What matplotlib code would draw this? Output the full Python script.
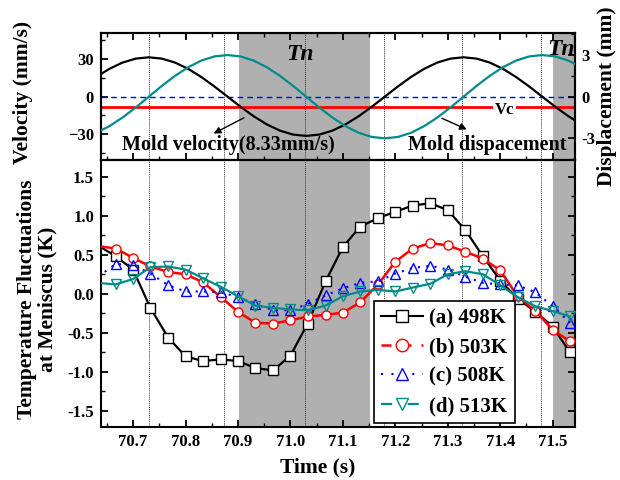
import matplotlib
matplotlib.use("Agg")
import matplotlib.pyplot as plt
from matplotlib.lines import Line2D
from matplotlib.ticker import MultipleLocator

plt.rcParams['font.family'] = ['Liberation Serif', 'DejaVu Serif']
plt.rcParams['font.weight'] = 'bold'
plt.rcParams['axes.labelweight'] = 'bold'
plt.rcParams['axes.linewidth'] = 1.5

# mold motion, sampled every 0.025 s
mold_t = [70.630, 70.655, 70.680, 70.705, 70.730, 70.755, 70.780, 70.805,
          70.830, 70.855, 70.880, 70.905, 70.930, 70.955, 70.980, 71.005,
          71.030, 71.055, 71.080, 71.105, 71.130, 71.155, 71.180, 71.205,
          71.230, 71.255, 71.280, 71.305, 71.330, 71.355, 71.380, 71.405,
          71.430, 71.455, 71.480, 71.505, 71.530, 71.555]
mold_velocity = [15.70, 22.20, 27.19, 30.33, 31.40, 30.33, 27.19, 22.20,
                 15.70, 8.13, 0.0, -8.13, -15.70, -22.20, -27.19, -30.33,
                 -31.40, -30.33, -27.19, -22.20, -15.70, -8.13, 0.0, 8.13,
                 15.70, 22.20, 27.19, 30.33, 31.40, 30.33, 27.19, 22.20,
                 15.70, 8.13, 0.0, -8.13, -15.70, -22.20]
mold_disp = [-2.60, -2.12, -1.50, -0.78, 0.0, 0.78, 1.50, 2.12,
             2.60, 2.90, 3.00, 2.90, 2.60, 2.12, 1.50, 0.78,
             0.0, -0.78, -1.50, -2.12, -2.60, -2.90, -3.00, -2.90,
             -2.60, -2.12, -1.50, -0.78, 0.0, 0.78, 1.50, 2.12,
             2.60, 2.90, 3.00, 2.90, 2.60, 2.12]
casting_speed = -8.33

# negative strip periods (Tn) and marker lines
tn_spans = [(70.902, 71.151), (71.501, 71.60)]
guide_lines = [70.730, 70.873, 71.028, 71.178, 71.327, 71.477]

# temperature fluctuations at meniscus
time = [70.633, 70.667, 70.700, 70.733, 70.767, 70.800, 70.833, 70.867,
        70.900, 70.933, 70.967, 71.000, 71.033, 71.067, 71.100, 71.133,
        71.167, 71.200, 71.233, 71.267, 71.300, 71.333, 71.367, 71.400,
        71.433, 71.467, 71.500, 71.533]
t498 = [0.62, 0.48, 0.31, -0.18, -0.56, -0.80, -0.86, -0.84, -0.86, -0.95,
        -0.98, -0.79, -0.38, 0.16, 0.60, 0.86, 0.97, 1.05, 1.13, 1.16,
        1.07, 0.82, 0.48, 0.17, -0.06, -0.23, -0.42, -0.75]
t503 = [0.61, 0.58, 0.46, 0.35, 0.28, 0.25, 0.15, -0.04, -0.23, -0.37,
        -0.38, -0.34, -0.29, -0.27, -0.24, -0.11, 0.12, 0.41, 0.58, 0.65,
        0.62, 0.54, 0.45, 0.30, -0.03, -0.22, -0.46, -0.61]
t508 = [0.22, 0.38, 0.37, 0.26, 0.11, 0.03, 0.03, 0.02, -0.04, -0.13,
        -0.21, -0.21, -0.13, -0.02, 0.07, 0.14, 0.16, 0.26, 0.33, 0.36,
        0.31, 0.22, 0.14, 0.12, 0.11, 0.02, -0.16, -0.37]
t513 = [0.14, 0.12, 0.19, 0.34, 0.35, 0.31, 0.20, 0.09, -0.03, -0.15,
        -0.18, -0.20, -0.21, -0.15, -0.03, 0.03, 0.05, 0.03, 0.08, 0.13,
        0.25, 0.29, 0.25, 0.11, -0.04, -0.16, -0.22, -0.29]
labels = ['(a) 498K', '(b) 503K', '(c) 508K', '(d) 513K']

teal = '#008b8b'
gray = '#b0b0b0'

fig = plt.figure(figsize=(6.2, 4.8), dpi=100)
ax1 = fig.add_axes([0.163, 0.667, 0.764, 0.264])
ax2 = fig.add_axes([0.163, 0.110, 0.764, 0.557], sharex=ax1)
ax1r = ax1.twinx()

for ax in (ax1, ax2):
    for a, b in tn_spans:
        ax.axvspan(a, b, color=gray, lw=0, zorder=0)
    for x in guide_lines:
        ax.axvline(x, color='#333333', lw=0.7, ls=(0, (1, 1)), zorder=1)

# top panel
ax1.axhline(0, color='blue', lw=1, ls=(0, (4, 3)), zorder=2)
ax1.axhline(casting_speed, color='red', lw=2, zorder=2)
ax1.plot(mold_t, mold_velocity, color='black', lw=1.6, zorder=3)
ax1r.plot(mold_t, mold_disp, color=teal, lw=1.6, zorder=3)
ax1.set_ylim(-50.5, 50.7)
ax1r.set_ylim(-4.55, 4.58)
ax1.set_yticks([-30, 0, 30])
ax1.yaxis.set_minor_locator(MultipleLocator(15))
ax1r.set_yticks([-3, 0, 3])
ax1r.yaxis.set_minor_locator(MultipleLocator(1.5))
ax1.set_ylabel('Velocity (mm/s)', fontsize=15.5)
ax1.yaxis.set_label_coords(-0.143, 0.53)
ax1r.set_ylabel('Displacement (mm)', fontsize=15.5, rotation=90)
ax1r.yaxis.set_label_coords(1.046, 0.5)

ax1.text(71.408, -11, 'Vc', ha='center', va='center', fontsize=12,
         bbox=dict(fc='white', ec='none', pad=1.5), zorder=4)
ax1.text(71.019, 33.5, 'Tn', ha='center', va='center', fontsize=17,
         style='italic', zorder=4)
ax1.text(71.516, 38, 'Tn', ha='center', va='center', fontsize=17,
         style='italic', zorder=4)
ax1.text(70.882, -38.5, 'Mold velocity(8.33mm/s)', ha='center', va='center',
         fontsize=14.5, zorder=4)
ax1.text(71.376, -38.5, 'Mold dispacement', ha='center', va='center',
         fontsize=14.5, zorder=4)
ax1.annotate('', xy=(70.849, -30.5), xytext=(70.916, -15.9),
             arrowprops=dict(arrowstyle='-|>', color='black', lw=1,
                             mutation_scale=10), zorder=4)
ax1.annotate('', xy=(71.341, -27.1), xytext=(71.284, -16.4),
             arrowprops=dict(arrowstyle='-|>', color='black', lw=1,
                             mutation_scale=10), zorder=4)

# bottom panel
ms = 6.5
ax2.plot(time, t498, color='black', lw=1.6, marker='s', ms=ms, mfc='white',
         mec='black', mew=1, markevery=slice(1, None), zorder=3)
ax2.plot(time, t503, color='red', lw=1.8, marker='o', ms=ms, mfc='white',
         mec='red', mew=1, markevery=slice(1, None), zorder=4)
ax2.plot(time, t508, color='blue', lw=1.5, ls=(0, (1, 3)), marker='^', ms=ms,
         mfc='none', mec='blue', mew=1, markevery=slice(1, None), zorder=5)
ax2.plot(time, t513, color=teal, lw=1.6, marker='v', ms=ms, mfc='none',
         mec=teal, mew=1, markevery=slice(1, None), zorder=6)

handles = [
    Line2D([], [], color='black', lw=1.5, marker='s', ms=9, mfc='white',
           mec='black'),
    Line2D([], [], color='red', lw=1.8, ls=(0, (4, 4)), marker='o', ms=9,
           mfc='white', mec='red'),
    Line2D([], [], color='blue', lw=1.5, ls=(0, (1, 4)), marker='^', ms=9,
           mfc='white', mec='blue'),
    Line2D([], [], color=teal, lw=1.6, ls=(0, (5, 3, 1, 3)), marker='v', ms=9,
           mfc='white', mec=teal),
]
leg = ax2.legend(handles, labels, loc='lower right',
                 bbox_to_anchor=(0.873, 0.014), fontsize=15, frameon=True,
                 fancybox=False, edgecolor='black', framealpha=1,
                 handlelength=2.0, handletextpad=0.3, labelspacing=0.45,
                 borderpad=0.35, borderaxespad=0)
leg.get_frame().set_linewidth(1.2)
leg.set_zorder(10)

ax2.set_xlim(70.639, 71.542)
ax2.set_ylim(-1.707, 1.715)
ax2.set_xticks([70.7, 70.8, 70.9, 71.0, 71.1, 71.2, 71.3, 71.4, 71.5])
ax2.xaxis.set_minor_locator(MultipleLocator(0.05))
ax2.set_yticks([-1.5, -1.0, -0.5, 0.0, 0.5, 1.0, 1.5])
ax2.yaxis.set_minor_locator(MultipleLocator(0.25))
ax2.set_xlabel('Time (s)', fontsize=15.5)
ax2.xaxis.set_label_coords(0.458, -0.112)
ax2.set_ylabel('Temperature Fluctuations\nat Meniscus (K)', fontsize=15.5,
               multialignment='center', linespacing=1.0)
ax2.yaxis.set_label_coords(-0.093, 0.48)

ax1.tick_params(axis='x', which='both', bottom=True, top=True,
                labelbottom=False, direction='in')
ax1.tick_params(axis='y', which='both', right=False, direction='in')
ax1r.tick_params(axis='y', which='both', direction='in')
ax2.tick_params(axis='both', which='both', direction='in', right=True)
for ax in (ax1, ax1r, ax2):
    ax.tick_params(which='major', length=5, width=1.3, labelsize=12, pad=5)
    ax.tick_params(which='minor', length=3, width=1.0)
    for lab in ax.get_xticklabels() + ax.get_yticklabels():
        lab.set_fontweight('bold')
ax2.set_xticklabels(['70.7', '70.8', '70.9', '71.0', '71.1', '71.2', '71.3',
                     '71.4', '71.5'])
ax2.set_yticklabels(['-1.5', '-1.0', '-0.5', '0.0', '0.5', '1.0', '1.5'])
ax1r.set_yticklabels(['-3', '0', '3'])

fig.savefig('out.png', dpi=100)
